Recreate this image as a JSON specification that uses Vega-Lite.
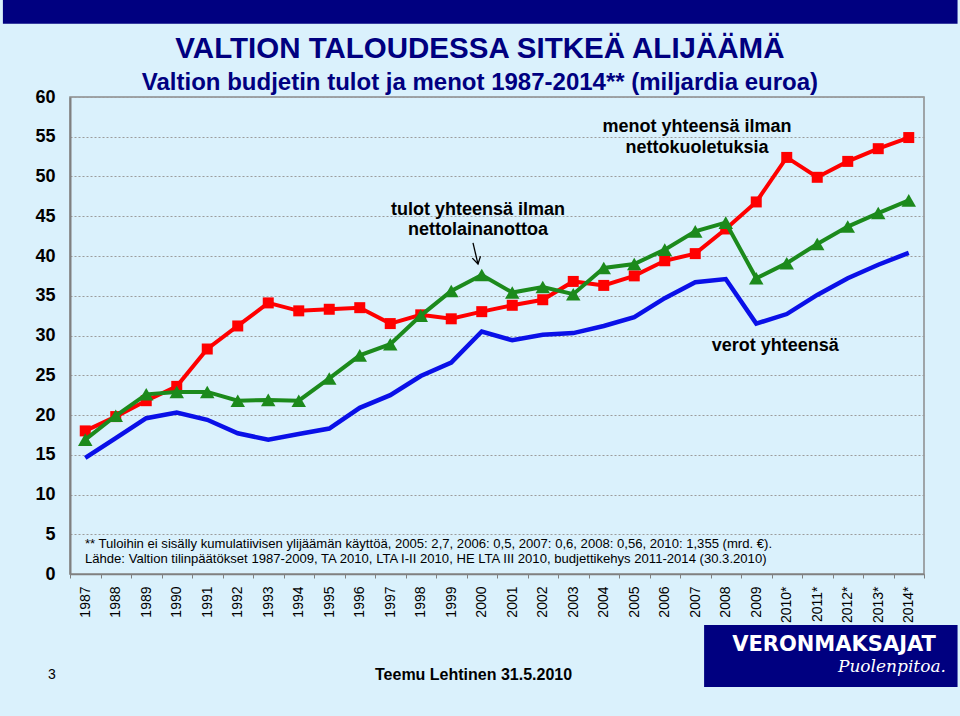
{
  "$schema": "https://vega.github.io/schema/vega-lite/v6.json",
  "width": 854,
  "height": 477,
  "autosize": {"type": "none"},
  "padding": {"left": 70, "top": 97, "right": 36, "bottom": 142},
  "background": "#DAF1FC",
  "config": {
    "view": {"stroke": "#8a8a8a", "strokeWidth": 1.5},
    "font": "Liberation Sans"
  },
  "resolve": {"axis": {"x": "independent", "y": "independent"}},
  "datasets": {
    "budget": [
      {"year": 1987, "series": "verot", "value": 14.6},
      {"year": 1988, "series": "verot", "value": 17.1},
      {"year": 1989, "series": "verot", "value": 19.6},
      {"year": 1990, "series": "verot", "value": 20.3},
      {"year": 1991, "series": "verot", "value": 19.4},
      {"year": 1992, "series": "verot", "value": 17.7},
      {"year": 1993, "series": "verot", "value": 16.9},
      {"year": 1994, "series": "verot", "value": 17.6},
      {"year": 1995, "series": "verot", "value": 18.3},
      {"year": 1996, "series": "verot", "value": 20.9},
      {"year": 1997, "series": "verot", "value": 22.5},
      {"year": 1998, "series": "verot", "value": 24.9},
      {"year": 1999, "series": "verot", "value": 26.6},
      {"year": 2000, "series": "verot", "value": 30.5},
      {"year": 2001, "series": "verot", "value": 29.4},
      {"year": 2002, "series": "verot", "value": 30.1},
      {"year": 2003, "series": "verot", "value": 30.3},
      {"year": 2004, "series": "verot", "value": 31.2},
      {"year": 2005, "series": "verot", "value": 32.3},
      {"year": 2006, "series": "verot", "value": 34.7},
      {"year": 2007, "series": "verot", "value": 36.7},
      {"year": 2008, "series": "verot", "value": 37.1},
      {"year": 2009, "series": "verot", "value": 31.5},
      {"year": 2010, "series": "verot", "value": 32.7},
      {"year": 2011, "series": "verot", "value": 35.1},
      {"year": 2012, "series": "verot", "value": 37.2},
      {"year": 2013, "series": "verot", "value": 38.9},
      {"year": 2014, "series": "verot", "value": 40.4},
      {"year": 1987, "series": "menot", "value": 18.0},
      {"year": 1988, "series": "menot", "value": 19.8},
      {"year": 1989, "series": "menot", "value": 21.8},
      {"year": 1990, "series": "menot", "value": 23.6},
      {"year": 1991, "series": "menot", "value": 28.3},
      {"year": 1992, "series": "menot", "value": 31.2},
      {"year": 1993, "series": "menot", "value": 34.1},
      {"year": 1994, "series": "menot", "value": 33.1},
      {"year": 1995, "series": "menot", "value": 33.3},
      {"year": 1996, "series": "menot", "value": 33.5},
      {"year": 1997, "series": "menot", "value": 31.5},
      {"year": 1998, "series": "menot", "value": 32.6},
      {"year": 1999, "series": "menot", "value": 32.1},
      {"year": 2000, "series": "menot", "value": 33.0},
      {"year": 2001, "series": "menot", "value": 33.8},
      {"year": 2002, "series": "menot", "value": 34.5},
      {"year": 2003, "series": "menot", "value": 36.8},
      {"year": 2004, "series": "menot", "value": 36.3},
      {"year": 2005, "series": "menot", "value": 37.5},
      {"year": 2006, "series": "menot", "value": 39.4},
      {"year": 2007, "series": "menot", "value": 40.3},
      {"year": 2008, "series": "menot", "value": 43.4},
      {"year": 2009, "series": "menot", "value": 46.8},
      {"year": 2010, "series": "menot", "value": 52.4},
      {"year": 2011, "series": "menot", "value": 49.9},
      {"year": 2012, "series": "menot", "value": 51.9},
      {"year": 2013, "series": "menot", "value": 53.5},
      {"year": 2014, "series": "menot", "value": 54.9},
      {"year": 1987, "series": "tulot", "value": 16.9},
      {"year": 1988, "series": "tulot", "value": 19.9},
      {"year": 1989, "series": "tulot", "value": 22.6},
      {"year": 1990, "series": "tulot", "value": 22.9},
      {"year": 1991, "series": "tulot", "value": 22.9},
      {"year": 1992, "series": "tulot", "value": 21.8},
      {"year": 1993, "series": "tulot", "value": 21.9},
      {"year": 1994, "series": "tulot", "value": 21.8},
      {"year": 1995, "series": "tulot", "value": 24.6},
      {"year": 1996, "series": "tulot", "value": 27.5},
      {"year": 1997, "series": "tulot", "value": 28.9},
      {"year": 1998, "series": "tulot", "value": 32.5},
      {"year": 1999, "series": "tulot", "value": 35.6},
      {"year": 2000, "series": "tulot", "value": 37.6},
      {"year": 2001, "series": "tulot", "value": 35.4},
      {"year": 2002, "series": "tulot", "value": 36.1},
      {"year": 2003, "series": "tulot", "value": 35.2},
      {"year": 2004, "series": "tulot", "value": 38.5},
      {"year": 2005, "series": "tulot", "value": 39.0},
      {"year": 2006, "series": "tulot", "value": 40.8},
      {"year": 2007, "series": "tulot", "value": 43.1},
      {"year": 2008, "series": "tulot", "value": 44.2},
      {"year": 2009, "series": "tulot", "value": 37.2},
      {"year": 2010, "series": "tulot", "value": 39.1},
      {"year": 2011, "series": "tulot", "value": 41.5},
      {"year": 2012, "series": "tulot", "value": 43.7},
      {"year": 2013, "series": "tulot", "value": 45.4},
      {"year": 2014, "series": "tulot", "value": 47.0}
    ]
  },
  "layer": [
    {
      "data": {"name": "budget"},
      "transform": [{"filter": "datum.series == 'verot'"}],
      "mark": {"type": "line", "color": "#0A10E8", "strokeWidth": 4.5},
      "encoding": {
        "x": {
          "field": "year",
          "type": "quantitative",
          "scale": {"domain": [1986.5, 2014.5], "nice": false, "zero": false},
          "axis": {
            "orient": "bottom",
            "values": [1986.5, 1987.5, 1988.5, 1989.5, 1990.5, 1991.5, 1992.5, 1993.5, 1994.5, 1995.5, 1996.5, 1997.5, 1998.5, 1999.5, 2000.5, 2001.5, 2002.5, 2003.5, 2004.5, 2005.5, 2006.5, 2007.5, 2008.5, 2009.5, 2010.5, 2011.5, 2012.5, 2013.5, 2014.5],
            "labelExpr": "datum.value > 2014 ? '' : (datum.value + 0.5 >= 2010 ? (datum.value + 0.5) + '*' : '' + (datum.value + 0.5))",
            "labelOffset": 15.25,
            "labelAngle": -90,
            "labelFontSize": 14,
            "labelColor": "black",
            "labelPadding": 8,
            "labelOverlap": false,
            "labelFlush": false,
            "tickSize": 4,
            "tickColor": "#808080",
            "tickWidth": 1,
            "domainColor": "#808080",
            "domainWidth": 1.5,
            "grid": false,
            "title": null
          }
        },
        "y": {
          "field": "value",
          "type": "quantitative",
          "scale": {"domain": [0, 60], "nice": false, "zero": true},
          "axis": {
            "orient": "left",
            "values": [0, 5, 10, 15, 20, 25, 30, 35, 40, 45, 50, 55, 60],
            "grid": true,
            "gridColor": "#9c9c9c",
            "gridDash": [2, 2],
            "gridWidth": 1,
            "ticks": false,
            "labelFontSize": 18,
            "labelFontWeight": "bold",
            "labelColor": "black",
            "labelPadding": 15,
            "labelOverlap": false,
            "domainColor": "#808080",
            "domainWidth": 2,
            "title": null
          }
        }
      }
    },
    {
      "data": {"name": "budget"},
      "transform": [{"filter": "datum.series == 'menot'"}],
      "mark": {"type": "line", "color": "#FF0000", "strokeWidth": 4},
      "encoding": {
        "x": {"field": "year", "type": "quantitative", "axis": null},
        "y": {"field": "value", "type": "quantitative", "axis": null}
      }
    },
    {
      "data": {"name": "budget"},
      "transform": [{"filter": "datum.series == 'menot'"}],
      "mark": {"type": "point", "shape": "square", "filled": true, "size": 121, "color": "#FF0000", "opacity": 1},
      "encoding": {
        "x": {"field": "year", "type": "quantitative", "axis": null},
        "y": {"field": "value", "type": "quantitative", "axis": null}
      }
    },
    {
      "data": {"name": "budget"},
      "transform": [{"filter": "datum.series == 'tulot'"}],
      "mark": {"type": "line", "color": "#1C8A1C", "strokeWidth": 4},
      "encoding": {
        "x": {"field": "year", "type": "quantitative", "axis": null},
        "y": {"field": "value", "type": "quantitative", "axis": null}
      }
    },
    {
      "data": {"name": "budget"},
      "transform": [{"filter": "datum.series == 'tulot'"}],
      "mark": {"type": "point", "shape": "triangle-up", "filled": true, "size": 210, "color": "#1C8A1C", "opacity": 1},
      "encoding": {
        "x": {"field": "year", "type": "quantitative", "axis": null},
        "y": {"field": "value", "type": "quantitative", "axis": null}
      }
    },
    {
      "data": {"values": [{}]},
      "mark": {"type": "rect", "color": "#000080"},
      "encoding": {
        "x": {"datum": 1984.3, "type": "quantitative", "axis": null},
        "x2": {"datum": 2015.6},
        "y": {"datum": 69.2, "type": "quantitative", "axis": null},
        "y2": {"datum": 73}
      }
    },
    {
      "data": {"values": [{}]},
      "mark": {"type": "rect", "color": "#000080"},
      "encoding": {
        "x": {"datum": 2007.29, "type": "quantitative", "axis": null},
        "x2": {"datum": 2015.6},
        "y": {"datum": -6.42, "type": "quantitative", "axis": null},
        "y2": {"datum": -14.21}
      }
    },
    {
      "data": {"values": [{}]},
      "mark": {"type": "text", "text": "VALTION TALOUDESSA SITKEÄ ALIJÄÄMÄ", "font": "Liberation Sans", "fontSize": 29.5, "fontWeight": "bold", "color": "#000080", "align": "center", "baseline": "alphabetic"},
      "encoding": {
        "x": {"datum": 1999.94, "type": "quantitative", "axis": null},
        "y": {"datum": 64.9, "type": "quantitative", "axis": null}
      }
    },
    {
      "data": {"values": [{}]},
      "mark": {"type": "text", "text": "Valtion budjetin tulot ja menot 1987-2014** (miljardia euroa)", "font": "Liberation Sans", "fontSize": 24, "fontWeight": "bold", "color": "#000080", "align": "center", "baseline": "alphabetic"},
      "encoding": {
        "x": {"datum": 1999.94, "type": "quantitative", "axis": null},
        "y": {"datum": 60.88, "type": "quantitative", "axis": null}
      }
    },
    {
      "data": {"values": [{}]},
      "mark": {"type": "text", "text": "menot yhteensä ilman", "fontSize": 18, "fontWeight": "bold", "color": "black", "align": "center", "baseline": "alphabetic"},
      "encoding": {
        "x": {"datum": 2007.06, "type": "quantitative", "axis": null},
        "y": {"datum": 55.64, "type": "quantitative", "axis": null}
      }
    },
    {
      "data": {"values": [{}]},
      "mark": {"type": "text", "text": "nettokuoletuksia", "fontSize": 18, "fontWeight": "bold", "color": "black", "align": "center", "baseline": "alphabetic"},
      "encoding": {
        "x": {"datum": 2007.06, "type": "quantitative", "axis": null},
        "y": {"datum": 52.99, "type": "quantitative", "axis": null}
      }
    },
    {
      "data": {"values": [{}]},
      "mark": {"type": "text", "text": "tulot yhteensä ilman", "fontSize": 18, "fontWeight": "bold", "color": "black", "align": "center", "baseline": "alphabetic"},
      "encoding": {
        "x": {"datum": 1999.88, "type": "quantitative", "axis": null},
        "y": {"datum": 45.16, "type": "quantitative", "axis": null}
      }
    },
    {
      "data": {"values": [{}]},
      "mark": {"type": "text", "text": "nettolainanottoa", "fontSize": 18, "fontWeight": "bold", "color": "black", "align": "center", "baseline": "alphabetic"},
      "encoding": {
        "x": {"datum": 1999.88, "type": "quantitative", "axis": null},
        "y": {"datum": 42.64, "type": "quantitative", "axis": null}
      }
    },
    {
      "data": {"values": [{}]},
      "mark": {"type": "text", "text": "verot yhteensä", "fontSize": 18, "fontWeight": "bold", "color": "black", "align": "center", "baseline": "alphabetic"},
      "encoding": {
        "x": {"datum": 2009.62, "type": "quantitative", "axis": null},
        "y": {"datum": 28.09, "type": "quantitative", "axis": null}
      }
    },
    {
      "data": {"values": [{}]},
      "mark": {"type": "rule", "color": "black", "strokeWidth": 1.3},
      "encoding": {
        "x": {"datum": 1999.713, "type": "quantitative", "axis": null},
        "y": {"datum": 41.64, "type": "quantitative", "axis": null},
        "x2": {"datum": 1999.877},
        "y2": {"datum": 38.99}
      }
    },
    {
      "data": {"values": [{}]},
      "mark": {"type": "point", "shape": "M-0.6,-1L0,0L0.6,-1", "filled": false, "size": 196, "color": "black", "strokeWidth": 1.3, "angle": 347, "opacity": 1},
      "encoding": {
        "x": {"datum": 1999.877, "type": "quantitative", "axis": null},
        "y": {"datum": 38.99, "type": "quantitative", "axis": null}
      }
    },
    {
      "data": {"values": [{}]},
      "mark": {"type": "text", "text": "** Tuloihin ei sisälly kumulatiivisen ylijäämän käyttöä, 2005: 2,7, 2006: 0,5, 2007: 0,6, 2008: 0,56, 2010: 1,355 (mrd. €).", "fontSize": 13.1, "color": "black", "align": "left", "baseline": "alphabetic"},
      "encoding": {
        "x": {"datum": 1986.99, "type": "quantitative", "axis": null},
        "y": {"datum": 3.27, "type": "quantitative", "axis": null}
      }
    },
    {
      "data": {"values": [{}]},
      "mark": {"type": "text", "text": "Lähde: Valtion tilinpäätökset 1987-2009, TA 2010, LTA I-II 2010, HE LTA III 2010, budjettikehys  2011-2014 (30.3.2010)", "fontSize": 13.1, "color": "black", "align": "left", "baseline": "alphabetic"},
      "encoding": {
        "x": {"datum": 1986.99, "type": "quantitative", "axis": null},
        "y": {"datum": 1.38, "type": "quantitative", "axis": null}
      }
    },
    {
      "data": {"values": [{}]},
      "mark": {"type": "text", "text": "3", "fontSize": 14, "color": "black", "align": "center", "baseline": "alphabetic"},
      "encoding": {
        "x": {"datum": 1985.91, "type": "quantitative", "axis": null},
        "y": {"datum": -13.21, "type": "quantitative", "axis": null}
      }
    },
    {
      "data": {"values": [{}]},
      "mark": {"type": "text", "text": "Teemu Lehtinen  31.5.2010", "fontSize": 16, "fontWeight": "bold", "color": "black", "align": "left", "baseline": "alphabetic"},
      "encoding": {
        "x": {"datum": 1996.5, "type": "quantitative", "axis": null},
        "y": {"datum": -13.33, "type": "quantitative", "axis": null}
      }
    },
    {
      "data": {"values": [{}]},
      "mark": {"type": "text", "text": "VERONMAKSAJAT", "font": "DejaVu Sans", "fontSize": 21, "fontWeight": "bold", "color": "white", "align": "center", "baseline": "alphabetic"},
      "encoding": {
        "x": {"datum": 2011.55, "type": "quantitative", "axis": null},
        "y": {"datum": -9.73, "type": "quantitative", "axis": null}
      }
    },
    {
      "data": {"values": [{}]},
      "mark": {"type": "text", "text": "Puolenpitoa.", "font": "DejaVu Serif", "fontSize": 17, "fontStyle": "italic", "color": "white", "align": "right", "baseline": "alphabetic"},
      "encoding": {
        "x": {"datum": 2015.22, "type": "quantitative", "axis": null},
        "y": {"datum": -12.33, "type": "quantitative", "axis": null}
      }
    }
  ]
}
